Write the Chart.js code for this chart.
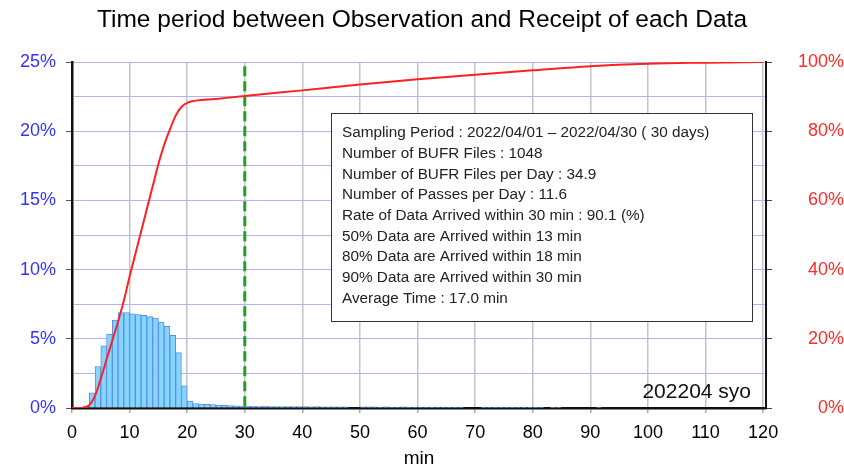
<!DOCTYPE html>
<html>
<head>
<meta charset="utf-8">
<script src="https://cdn.jsdelivr.net/npm/chart.js@4/dist/chart.umd.min.js"></script>
<style>
  html, body { margin: 0; padding: 0; background: #fff; }
  #wrap { width: 844px; height: 467px; }
</style>
</head>
<body>
<div id="wrap"><canvas id="delayChart" width="844" height="467"></canvas></div>
<script>
// ── Data ─────────────────────────────────────────────────────────────────────
// Histogram: share of files (%) per 1-minute bin, bins 0-1 ... 119-120 min
const histPct = [
  0, 0, 0.15, 1.1, 3.0, 4.5, 5.35, 6.35, 6.9, 6.9,
  6.8, 6.75, 6.7, 6.6, 6.5, 6.2, 5.9, 5.25, 4.0, 1.6,
  0.5, 0.32, 0.28, 0.26, 0.25, 0.22, 0.2, 0.18, 0.15, 0.14,
  0.12, 0.12, 0.11, 0.12, 0.11, 0.11, 0.1, 0.11, 0.1, 0.1,
  0.1, 0.09, 0.1, 0.09, 0.09, 0.09, 0.08, 0.08, 0, 0,
  0.08, 0.08, 0.08, 0.07, 0.08, 0.07, 0.07, 0.08, 0.07, 0.07,
  0.07, 0.07, 0.06, 0.07, 0.07, 0.06, 0.06, 0.06, 0, 0,
  0, 0.06, 0.06, 0.05, 0.06, 0.06, 0.05, 0.05, 0.06, 0.05,
  0.05, 0.05, 0, 0.05, 0.05, 0, 0, 0, 0, 0,
  0, 0.04, 0, 0, 0, 0, 0, 0, 0, 0,
  0, 0, 0, 0, 0, 0, 0, 0, 0, 0,
  0, 0, 0, 0, 0, 0, 0, 0, 0, 0
];

// Cumulative curve (right axis, %)
const cumMin = [0, 1, 2, 3, 4, 5, 6, 7, 8, 9, 10, 11, 12, 13, 14, 15, 16, 17, 18, 19, 20,
                25, 30, 40, 50, 60, 70, 80, 90, 100, 110, 120];
const cumPct = [0, 0, 0.1, 0.8, 3.5, 8.5, 14, 19.5, 25, 31, 38, 44.5, 51, 57.5, 64, 70.5, 76, 80.5, 84.5, 87, 88.2,
                89.3, 90.2, 91.8, 93.5, 95, 96.3, 97.6, 98.8, 99.5, 99.8, 100];

const thresholdMin = 30;          // green dashed marker
const thresholdTop = 24.7;        // top end of the marker, left-axis %

const xTicksStep = 10;
const leftTicks  = [0, 5, 10, 15, 20, 25];
const rightTicks = [0, 20, 40, 60, 80, 100];

const titleText    = 'Time period between Observation and Receipt of each Data';
const xAxisTitle   = 'min';
const stationLabel = '202204 syo';
const infoLines = [
  'Sampling Period : 2022/04/01 \u2013 2022/04/30 ( 30 days)',
  'Number of BUFR Files : 1048',
  'Number of BUFR Files per Day : 34.9',
  'Number of Passes per Day : 11.6',
  'Rate of Data Arrived within 30 min : 90.1 (%)',
  '50% Data are Arrived within 13 min',
  '80% Data are Arrived within 18 min',
  '90% Data are Arrived within 30 min',
  'Average Time : 17.0 min'
];

// ── Helpers ──────────────────────────────────────────────────────────────────
const FONT = '"Liberation Sans", Arial, Helvetica, sans-serif';
Chart.defaults.font.family = FONT;

// Info box + station label, drawn on top of the plot
const infoBox = {
  id: 'infoBox',
  afterDatasetsDraw(chart) {
    const ctx = chart.ctx;
    ctx.save();
    ctx.fillStyle = '#fff';
    ctx.fillRect(331.5, 113.5, 421, 208);
    ctx.strokeStyle = '#333';
    ctx.lineWidth = 1;
    ctx.strokeRect(331.5, 113.5, 421, 208);

    ctx.fillStyle = '#222';
    ctx.font = '15.3px ' + FONT;
    ctx.textBaseline = 'middle';
    ctx.textAlign = 'left';
    infoLines.forEach((t, i) => ctx.fillText(t, 342, 133 + i * 20.7));

    ctx.fillStyle = '#111';
    ctx.font = '21px ' + FONT;
    ctx.textAlign = 'right';
    ctx.fillText(stationLabel, 751, 392);
    ctx.restore();
  }
};

// ── Chart ────────────────────────────────────────────────────────────────────
new Chart(document.getElementById('delayChart'), {
  type: 'bar',
  data: {
    datasets: [
      {
        type: 'line',
        label: 'cumulative',
        data: cumMin.map((m, i) => ({ x: m, y: cumPct[i] })),
        yAxisID: 'y2',
        borderColor: '#ff2020',
        borderWidth: 2,
        pointRadius: 0,
        cubicInterpolationMode: 'monotone',
        order: 0
      },
      {
        type: 'line',
        label: '30 min',
        data: [{ x: thresholdMin, y: thresholdTop }, { x: thresholdMin, y: 0 }],
        yAxisID: 'y',
        borderColor: '#22a022',
        borderWidth: 3,
        borderDash: [10, 5],
        pointRadius: 0,
        order: 1
      },
      {
        label: 'histogram',
        data: histPct.map((v, i) => ({ x: i + 0.5, y: v })),
        yAxisID: 'y',
        backgroundColor: '#84d6ff',
        borderColor: '#5a8ee6',
        borderWidth: 1,
        barPercentage: 1,
        categoryPercentage: 1,
        order: 2
      }
    ]
  },
  plugins: [infoBox],
  options: {
    responsive: false,
    animation: false,
    events: [],
    layout: { padding: 0 },
    plugins: {
      legend: { display: false },
      tooltip: { enabled: false },
      title: {
        display: true,
        text: titleText,
        color: '#000',
        font: { size: 24.5, weight: 'normal', family: FONT },
        padding: { top: 6, bottom: 26.6 }
      }
    },
    scales: {
      x: {
        type: 'linear',
        min: 0,
        max: 120.5,
        offset: false,
        afterFit: s => { s.height = 59; },
        ticks: {
          stepSize: xTicksStep,
          includeBounds: false,
          maxRotation: 0,
          color: '#000',
          padding: 9,
          font: { size: 18 }
        },
        grid: {
          offset: false,
          color: ctx => ctx.tick && ctx.tick.value === 0 ? 'transparent' : '#c4c4c4',
          lineWidth: 1.5,
          tickLength: 5,
          tickColor: '#aaa'
        },
        border: { color: '#111', width: 2.5 },
        title: {
          display: true,
          text: xAxisTitle,
          color: '#000',
          font: { size: 19 },
          padding: { top: 0, bottom: -3 }
        }
      },
      y: {
        position: 'left',
        min: 0,
        max: 25,
        afterFit: s => { s.width = 72; },
        ticks: {
          stepSize: 2.5,
          color: '#3333ff',
          padding: 10,
          font: { size: 18 },
          callback: v => leftTicks.includes(v) ? v + '%' : ''
        },
        grid: {
          color: ctx => ctx.tick && ctx.tick.value === 0 ? 'transparent' : '#b4b4f2',
          lineWidth: 1,
          tickLength: 6,
          tickColor: ctx => leftTicks.includes(ctx.tick.value) ? '#555' : 'transparent'
        },
        border: { color: '#111', width: 2.5 }
      },
      y2: {
        position: 'right',
        min: 0,
        max: 100,
        afterFit: s => { s.width = 78; },
        ticks: {
          stepSize: 20,
          color: '#ff2a2a',
          padding: 11,
          crossAlign: 'far',
          font: { size: 18 },
          callback: v => rightTicks.includes(v) ? v + '%' : ''
        },
        grid: {
          drawOnChartArea: false,
          tickLength: 6,
          tickColor: '#444'
        },
        border: { color: '#111', width: 2 }
      }
    }
  }
});
</script>
</body>
</html>
